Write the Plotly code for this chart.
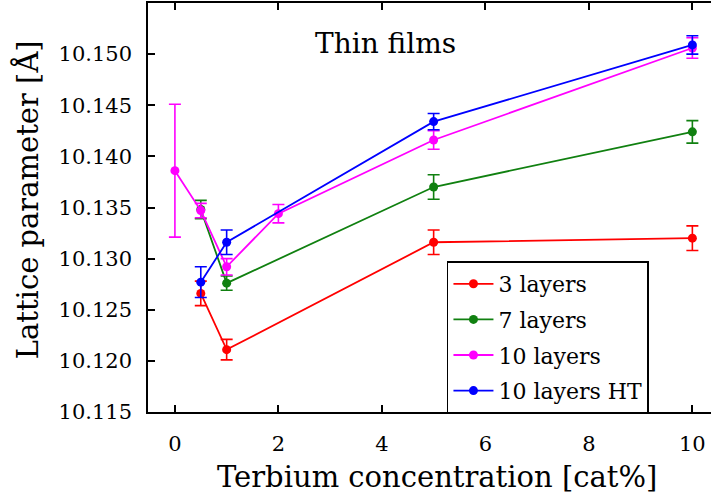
import plotly.graph_objects as go

# Terbium concentration [cat%] for each film series
x_3 = [0.5, 1, 5, 10]
x_7 = [0.5, 1, 5, 10]
x_10 = [0, 0.5, 1, 2, 5, 10]
x_10ht = [0.5, 1, 5, 10]

# Lattice parameter [Å] and its uncertainty
a_3 = [10.1266, 10.1211, 10.1316, 10.1320]
e_3 = [0.0012, 0.0010, 0.0012, 0.0012]

a_7 = [10.1348, 10.1276, 10.1370, 10.1424]
e_7 = [0.0009, 0.0007, 0.0012, 0.0011]

a_10 = [10.1386, 10.1347, 10.1292, 10.1344, 10.1416, 10.1506]
e_10 = [0.0065, 0.0007, 0.0008, 0.0009, 0.0009, 0.0010]

a_10ht = [10.1277, 10.1316, 10.1434, 10.1509]
e_10ht = [0.0015, 0.0012, 0.0008, 0.0009]

names = ["3 layers", "7 layers", "10 layers", "10 layers HT"]
colors = ["#ff0000", "#108010", "#ff00ff", "#0000ff"]

y_ticks = [10.115, 10.120, 10.125, 10.130, 10.135, 10.140, 10.145, 10.150]
x_ticks = [0, 2, 4, 6, 8, 10]

FONT = "'DejaVu Serif', serif"

fig = go.Figure()
series = [(x_3, a_3, e_3), (x_7, a_7, e_7), (x_10, a_10, e_10), (x_10ht, a_10ht, e_10ht)]
for (xs, ys, es), name, col in zip(series, names, colors):
    fig.add_trace(go.Scatter(
        x=xs, y=ys, name=name, legendgroup=name, mode="lines+markers",
        line=dict(color=col, width=1.8),
        marker=dict(color=col, size=9),
        error_y=dict(type="data", array=es, visible=True,
                     color=col, thickness=1.6, width=6),
    ))

axis_common = dict(
    showline=True, linecolor="black", linewidth=1.5,
    ticks="inside", ticklen=7, tickwidth=1.5, tickcolor="black",
    showgrid=False, zeroline=False,
    tickfont=dict(family=FONT, size=21, color="black"),
)

fig.update_layout(
    width=711, height=498,
    margin=dict(l=148, r=0, t=3, b=86),
    paper_bgcolor="white", plot_bgcolor="white",
    font=dict(family=FONT, color="black"),
    xaxis=dict(range=[-0.52, 10.36], tickvals=x_ticks, mirror="ticks",
               ticklabelstandoff=12, **axis_common),
    yaxis=dict(range=[10.115, 10.155], tickvals=y_ticks, tickformat=".3f",
               mirror=False, ticklabelstandoff=10, **axis_common),
    legend=dict(
        x=0.531, y=0.368, xanchor="left", yanchor="top",
        bgcolor="white", bordercolor="black", borderwidth=1.5,
        font=dict(family=FONT, size=22, color="black"),
        tracegroupgap=4, itemwidth=40,
    ),
    showlegend=True,
    annotations=[
        dict(text="Thin films", x=0.4227, y=0.902, xref="paper", yref="paper",
             xanchor="center", yanchor="middle", showarrow=False,
             font=dict(family=FONT, size=28, color="black")),
        dict(text="Terbium concentration [cat%]", x=0.5133, y=-0.158,
             xref="paper", yref="paper", xanchor="center", yanchor="middle",
             showarrow=False, font=dict(family=FONT, size=29, color="black")),
        dict(text="Lattice parameter [Å]", x=-0.2149, y=0.5178,
             xref="paper", yref="paper", xanchor="center", yanchor="middle",
             textangle=-90, showarrow=False,
             font=dict(family=FONT, size=29, color="black")),
    ],
)

fig.write_html("out.html")
